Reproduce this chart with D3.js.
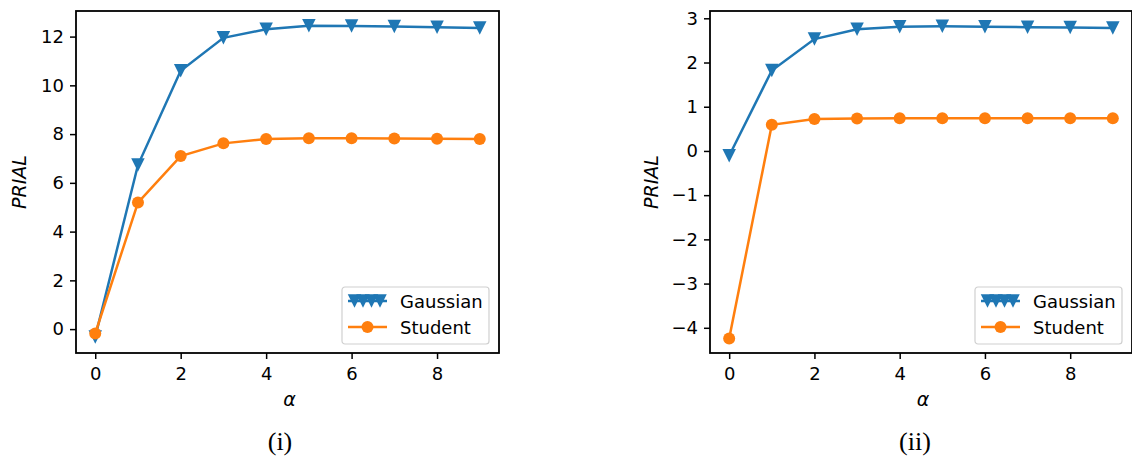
<!DOCTYPE html>
<html>
<head>
<meta charset="utf-8">
<script src="https://cdn.jsdelivr.net/npm/d3@7"></script>
<style>
  body { margin: 0; background: #fff; }
  text { font-family: "DejaVu Sans", sans-serif; }
</style>
</head>
<body>
<svg id="chart" width="1132" height="458"></svg>
<script>
// data
const alpha = [0, 1, 2, 3, 4, 5, 6, 7, 8, 9];
const gaussLeft = [-0.32, 6.73, 10.6, 11.95, 12.3, 12.44, 12.43, 12.41, 12.38, 12.35];
const studentLeft = [-0.18, 5.19, 7.1, 7.62, 7.8, 7.83, 7.83, 7.82, 7.81, 7.8];
const gaussRight = [-0.11, 1.82, 2.53, 2.75, 2.81, 2.82, 2.81, 2.8, 2.79, 2.78];
const studentRight = [-4.24, 0.59, 0.72, 0.735, 0.74, 0.74, 0.74, 0.74, 0.74, 0.74];
const xTicks = [0, 2, 4, 6, 8];
const yTicksLeft = [0, 2, 4, 6, 8, 10, 12];
const yTicksRight = [-4, -3, -2, -1, 0, 1, 2, 3];
const seriesNames = ["Gaussian", "Student"];
const captions = ["(i)", "(ii)"];

const blue = "#1f77b4", orange = "#ff7f0e";
const svg = d3.select("#chart");
const tri = d3.symbol().type({
  draw(ctx, size) {
    // downward triangle, width = height = size
    const r = size / 2;
    ctx.moveTo(-r, -r); ctx.lineTo(r, -r); ctx.lineTo(0, r); ctx.closePath();
  }
}).size(13.5);

function drawPanel(p) {
  const x = d3.scaleLinear().domain([-0.45, 9.45]).range([p.left, p.right]);
  const y = d3.scaleLinear().domain(p.yDomain).range([353, 11]);
  const g = svg.append("g");

  const xa = g.append("g").attr("transform", "translate(0,353)")
    .call(d3.axisBottom(x).tickValues(xTicks).tickFormat(d3.format("d")).tickSize(6).tickPadding(8));
  const ya = g.append("g").attr("transform", `translate(${p.left},0)`)
    .call(d3.axisLeft(y).tickValues(p.yTicks).tickFormat(d3.format("d")).tickSize(6).tickPadding(6));
  [xa, ya].forEach(a => {
    a.select(".domain").remove();
    a.selectAll(".tick line").attr("stroke", "#000").attr("stroke-width", 1.5);
    a.selectAll(".tick text").attr("fill", "#000").attr("font-size", "18px")
      .attr("font-family", "DejaVu Sans");
  });

  const line = d3.line().x((d, i) => x(alpha[i])).y(d => y(d));

  // Gaussian
  g.append("path").datum(p.gauss).attr("d", line)
    .attr("fill", "none").attr("stroke", blue).attr("stroke-width", 2.5);
  g.selectAll(".gm").data(p.gauss).join("path")
    .attr("transform", (d, i) => `translate(${x(alpha[i])},${y(d)})`)
    .attr("d", tri).attr("fill", blue);

  // Student
  g.append("path").datum(p.student).attr("d", line)
    .attr("fill", "none").attr("stroke", orange).attr("stroke-width", 2.5);
  g.selectAll(".sm").data(p.student).join("circle")
    .attr("cx", (d, i) => x(alpha[i])).attr("cy", d => y(d))
    .attr("r", 6).attr("fill", orange);

  // frame
  g.append("rect").attr("x", p.left).attr("y", 11)
    .attr("width", p.right - p.left).attr("height", 342)
    .attr("fill", "none").attr("stroke", "#000").attr("stroke-width", 1.8);

  // axis labels
  g.append("text").attr("x", (p.left + p.right) / 2 + 2).attr("y", 406)
    .attr("text-anchor", "middle").attr("font-size", "19px").attr("font-style", "italic")
    .text("α");
  g.append("text")
    .attr("transform", `translate(${p.yLabelX},182) rotate(-90)`)
    .attr("text-anchor", "middle").attr("font-size", "19px").attr("font-style", "italic")
    .text("PRIAL");

  // legend
  const lx = p.right - 10 - 147, ly = 287;
  const lg = g.append("g").attr("transform", `translate(${lx},${ly})`);
  lg.append("rect").attr("width", 147).attr("height", 57).attr("rx", 3)
    .attr("fill", "#fff").attr("fill-opacity", 0.8)
    .attr("stroke", "#d0d0d0").attr("stroke-width", 1.2);
  lg.append("line").attr("x1", 6).attr("x2", 45).attr("y1", 14).attr("y2", 14)
    .attr("stroke", blue).attr("stroke-width", 2.5);
  lg.selectAll(".lt").data([0, 1, 2, 3]).join("path")
    .attr("transform", d => `translate(${12.5 + d * 8.5},14)`)
    .attr("d", tri).attr("fill", blue);
  lg.append("line").attr("x1", 6).attr("x2", 45).attr("y1", 40).attr("y2", 40)
    .attr("stroke", orange).attr("stroke-width", 2.5);
  lg.append("circle").attr("cx", 25.5).attr("cy", 40).attr("r", 6).attr("fill", orange);
  lg.selectAll(".ln").data(seriesNames).join("text")
    .attr("x", 58).attr("y", (d, i) => 21 + i * 26)
    .attr("font-size", "18px").attr("fill", "#000").text(d => d);

  // caption
  svg.append("text").attr("x", p.capX).attr("y", 450)
    .attr("text-anchor", "middle").attr("font-size", "26px")
    .style("font-family", "'Liberation Serif', 'DejaVu Serif', serif")
    .text(p.caption);
}

drawPanel({ left: 76, right: 499, yDomain: [-0.98, 13.05], yTicks: yTicksLeft,
  gauss: gaussLeft, student: studentLeft, yLabelX: 26, capX: 280, caption: captions[0] });
drawPanel({ left: 710, right: 1132, yDomain: [-4.57, 3.165], yTicks: yTicksRight,
  gauss: gaussRight, student: studentRight, yLabelX: 658, capX: 915, caption: captions[1] });
</script>
</body>
</html>
